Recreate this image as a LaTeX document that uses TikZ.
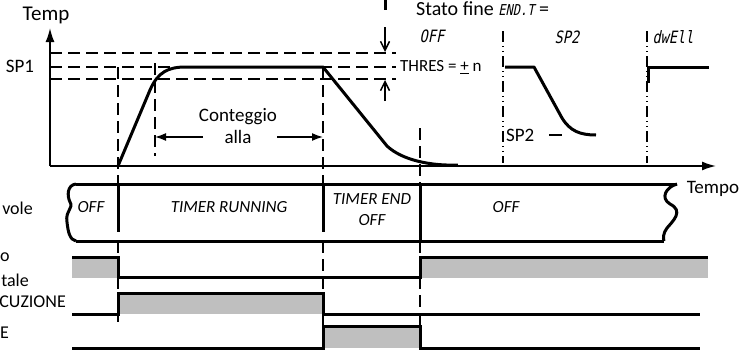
\documentclass[tikz,border=0pt]{standalone}
\usepackage{fontspec}
\setmainfont{Carlito}
\newfontfamily\segfont[FakeSlant=0.2,FakeStretch=0.8]{DejaVu Sans Mono}
\usetikzlibrary{arrows.meta, positioning, calc}

\begin{document}
\begin{tikzpicture}[
  x=1pt, y=-1pt,
  lbl/.style={font=\fontsize{18}{20}\selectfont, inner sep=0pt},
  ilbl/.style={font=\fontsize{17}{19}\selectfont\itshape, inner sep=0pt},
  seg/.style={font=\fontsize{17}{19}\selectfont\segfont, inner sep=0pt},
  curve/.style={line width=3pt, line join=round},
  sig/.style={line width=3pt, line join=miter},
  band/.style={fill=gray!50},
  guide/.style={dash pattern=on 12pt off 6pt, line width=1.5pt},
  dotguide/.style={dash pattern=on 11pt off 4pt on 1pt off 4pt on 1pt off 4pt, line width=1.6pt},
  axis/.style={line width=1.6pt},
  arr/.style={-{Latex[length=11pt,width=8pt]}, line width=1.5pt},
  vee/.style={-{Straight Barb[length=9pt,width=9pt]}, line width=1.5pt}
]
\useasboundingbox (0,0) rectangle (742,351);

% Time marks
\coordinate (t0) at (118,0);
\coordinate (t1) at (155,0);
\coordinate (t2) at (323,0);
\coordinate (t3) at (420,0);

% Axes
\draw[axis, -{Latex[length=14pt,width=9pt]}] (50,166) -- (50,28);
\draw[axis, -{Latex[length=14pt,width=9pt]}] (50,166) -- (716,166);
\node[lbl, font=\fontsize{21}{23}\selectfont] (temp) at (46,15) {Temp};
\node[lbl, font=\fontsize{19}{21}\selectfont] (tempo) at (713,189) {Tempo};
\node[lbl, font=\fontsize{19}{21}\selectfont] (sp1) at (20,66) {SP1};

% Threshold band
\draw[guide] (50,53) -- (396,53);
\draw[guide] (50,67) -- (396,67);
\draw[guide] (50,79) -- (396,79);
\node[lbl, font=\fontsize{17}{19}\selectfont, anchor=west] (thres) at (400,67) {THRES = \underline{+} n};
\draw[line width=3pt] (385,0) -- (385,10);
\draw[vee] (385,27) -- (385,52);
\draw[vee] (385,101) -- (385,80);

% Temperature curve
\draw[curve] (118,166) -- (150,90) .. controls (158,72) and (168,67) .. (186,67)
  -- (323,67) -- (387,146) .. controls (402,160) and (430,166) .. (458,165);

% Guides
\draw[guide] (118,67) -- (118,184);
\draw[guide] (155,63) -- (155,156);
\draw[guide] (323,67) -- (323,184);
\draw[guide] (420,128) -- (420,184);
\draw[guide] (118,241) -- (118,322);
\draw[guide] (323,241) -- (323,326);
\draw[guide] (420,241) -- (420,326);

% Counting
\node[lbl, font=\fontsize{19}{21}\selectfont] (cnt) at (238,117) {Conteggio};
\node[lbl, font=\fontsize{19}{21}\selectfont] (alla) at (238,137) {alla};
\coordinate (cl) at (203,137);
\coordinate (cr) at (277,137);
\draw[arr] (cl) -- (t1 |- cl);
\draw[arr] (cr) -- (t2 |- cr);

% End state
\node[lbl, font=\fontsize{20}{22}\selectfont, anchor=west] (stato) at (416,9) {Stato fine {\segfont\fontsize{15}{17}\selectfont END.T} =};
\node[seg] (off) at (432,36) {OFF};
\node[seg] (sp2) at (567,37) {SP2};
\node[seg] (dwell) at (673,37) {dwEll};
\draw[dotguide] (503,31) -- (503,163);
\draw[dotguide] (647,31) -- (647,163);
\draw[curve] (505,67) -- (534,67) -- (562,118) .. controls (570,131) and (580,135) .. (596,135);
\node[lbl, font=\fontsize{19}{21}\selectfont, anchor=west] (sp2l) at (506,135) {SP2};
\draw[line width=2pt] (549,135) -- (562,135);
\draw[curve] (648,83) -- (648,67) -- (709,67);

% State band
\draw[sig] (76,184) -- (677,184);
\draw[sig] (76,241) -- (664,241);
\draw[sig] (76,184) .. controls (67,185) and (67,196) .. (70,202)
  .. controls (74,208) and (65,211) .. (67,222) .. controls (68,232) and (70,240) .. (76,241);
\draw[sig] (677,184) .. controls (666,187) and (660,198) .. (670,204)
  .. controls (684,211) and (673,221) .. (667,228) .. controls (663,233) and (663,239) .. (664,241);
\draw[sig] (118,184) -- (118,232);
\draw[sig] (323,184) -- (323,232);
\draw[sig] (420,184) -- (420,241);
\node[ilbl] (s0) at (91,207) {OFF};
\node[ilbl] (s1) at (229,207) {TIMER RUNNING};
\node[ilbl] (s2) at (372,199) {TIMER END};
\node[ilbl] (s2b) at (372,220) {OFF};
\node[ilbl] (s3) at (506,207) {OFF};

% Signals
\fill[band] (72,257) rectangle (118,278);
\fill[band] (420,257) rectangle (708,278);
\draw[sig] (72,257) -- (118,257) -- (118,277) -- (420,277) -- (420,257) -- (708,257);
\fill[band] (118,293) rectangle (323,314);
\draw[sig] (72,314) -- (118,314) -- (118,293) -- (323,293) -- (323,314) -- (700,314);
\fill[band] (323,326) rectangle (420,348);
\draw[sig] (72,348) -- (323,348) -- (323,326) -- (420,326) -- (420,348) -- (700,348);

% Row labels
\node[lbl, anchor=east] (r0) at (33,208) {vole};
\node[lbl, anchor=west] (r1) at (0,257) {o};
\node[lbl, anchor=east] (r1b) at (29,280) {tale};
\node[lbl, anchor=east] (r2) at (66,302) {CUZIONE};
\node[lbl, anchor=west] (r3) at (0,333) {E};

\end{tikzpicture}
\end{document}
